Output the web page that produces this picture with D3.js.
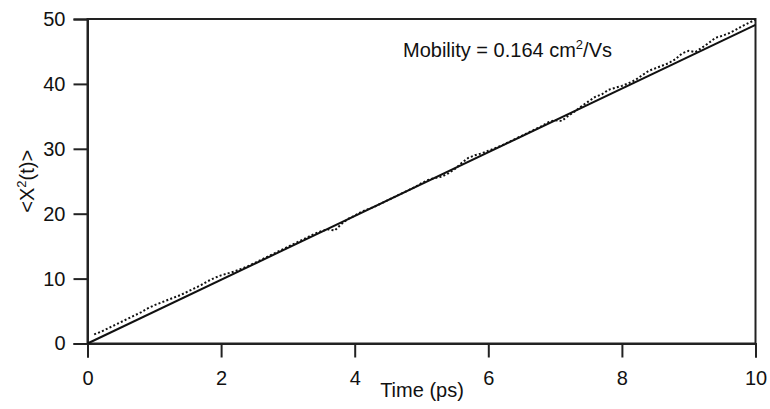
<!DOCTYPE html>
<meta charset="utf-8">
<script src="https://d3js.org/d3.v7.min.js"></script>
<style>
  body { margin: 0; background: #fff; }
  text { font-family: "Liberation Sans", Arial, sans-serif; fill: #111; }
</style>
<div id="chart"></div>
<script>
// simulated mean square displacement (dotted)
const timePs = [0.1,0.2,0.3,0.4,0.5,0.6,0.7,0.8,0.9,1.0,
  1.1,1.2,1.3,1.4,1.5,1.6,1.7,1.8,1.9,2.0,
  2.1,2.2,2.3,2.4,2.5,2.6,2.7,2.8,2.9,3.0,
  3.1,3.2,3.3,3.4,3.5,3.6,3.7,3.8,3.9,4.0,
  4.1,4.2,4.3,4.4,4.5,4.6,4.7,4.8,4.9,5.0,
  5.1,5.2,5.3,5.4,5.5,5.6,5.7,5.8,5.9,6.0,
  6.1,6.2,6.3,6.4,6.5,6.6,6.7,6.8,6.9,7.0,
  7.1,7.2,7.3,7.4,7.5,7.6,7.7,7.8,7.9,8.0,
  8.1,8.2,8.3,8.4,8.5,8.6,8.7,8.8,8.9,9.0,
  9.1,9.2,9.3,9.4,9.5,9.6,9.7,9.8,9.9,10.0];
const msd = [1.4,1.8,2.3,2.8,3.3,3.8,4.3,4.8,5.4,5.9,
  6.3,6.7,7.1,7.5,8.0,8.5,9.0,9.6,10.1,10.5,
  10.8,11.1,11.5,11.9,12.4,12.9,13.4,13.9,14.4,14.9,
  15.4,15.9,16.4,16.9,17.3,17.6,17.4,18.4,19.2,19.7,
  20.3,20.7,21.1,21.6,22.1,22.6,23.1,23.6,24.1,24.7,
  25.2,25.5,25.7,26.2,26.9,27.8,28.6,29.0,29.3,29.7,
  30.1,30.5,31.0,31.5,32.0,32.5,33.0,33.5,34.1,34.4,
  34.3,35.1,35.8,36.6,37.3,38.0,38.4,39.1,39.4,39.7,
  40.1,40.6,41.3,42.0,42.4,42.8,43.2,43.8,44.7,45.1,
  44.9,45.6,46.3,47.1,47.4,47.8,48.3,48.9,49.4,49.9];

// linear fit
const fitTime = [0, 10];
const fitValue = [0, 49.1];

const xTicks = [0, 2, 4, 6, 8, 10];
const yTicks = [0, 10, 20, 30, 40, 50];

const W = 770, H = 409;
const margin = {top: 19, right: 14.5, bottom: 65.5, left: 87.5};
const width = W - margin.left - margin.right;
const height = H - margin.top - margin.bottom;
const fs = "20px";

const svg = d3.select("#chart").append("svg")
  .attr("width", W).attr("height", H);
const g = svg.append("g")
  .attr("transform", `translate(${margin.left},${margin.top})`);

const x = d3.scaleLinear().domain([0, 10]).range([0, width]);
const y = d3.scaleLinear().domain([0, 50]).range([height, 0]);

// frame
g.append("rect")
  .attr("width", width).attr("height", height)
  .attr("fill", "none").attr("stroke", "#222").attr("stroke-width", 2);

const xAxis = g.append("g")
  .attr("transform", `translate(0,${height})`)
  .call(d3.axisBottom(x).tickValues(xTicks).tickSize(14).tickPadding(13).tickFormat(d3.format("d")));
const yAxis = g.append("g")
  .call(d3.axisLeft(y).tickValues(yTicks).tickSize(14).tickPadding(8).tickFormat(d3.format("d")));

[xAxis, yAxis].forEach(a => {
  a.select(".domain").attr("stroke", "#222").attr("stroke-width", 2);
  a.selectAll(".tick line").attr("stroke", "#222").attr("stroke-width", 2);
  a.selectAll(".tick text")
    .style("font-family", "'Liberation Sans', Arial, sans-serif")
    .style("font-size", fs).attr("fill", "#111");
});

// data
const line = d3.line().x(d => x(d[0])).y(d => y(d[1]));

g.append("path")
  .datum(timePs.map((t, i) => [t, msd[i]]))
  .attr("d", line)
  .attr("fill", "none")
  .attr("stroke", "#111")
  .attr("stroke-width", 2)
  .attr("stroke-dasharray", "2,2.2");

g.append("path")
  .datum(fitTime.map((t, i) => [t, fitValue[i]]))
  .attr("d", line)
  .attr("fill", "none")
  .attr("stroke", "#111")
  .attr("stroke-width", 2);

// labels
svg.append("text")
  .attr("x", 422)
  .attr("y", 397)
  .attr("text-anchor", "middle")
  .style("font-size", fs)
  .text("Time (ps)");

const yl = svg.append("text")
  .attr("transform", `translate(34,${margin.top + height / 2}) rotate(-90)`)
  .attr("text-anchor", "middle")
  .style("font-size", fs);
yl.append("tspan").text("<X");
yl.append("tspan").attr("dy", -8).style("font-size", "13px").text("2");
yl.append("tspan").attr("dy", 8).text("(t)>");

const mob = svg.append("text")
  .attr("x", 403).attr("y", 57)
  .style("font-size", fs);
mob.append("tspan").text("Mobility = 0.164 cm");
mob.append("tspan").attr("dy", -8).style("font-size", "13px").text("2");
mob.append("tspan").attr("dy", 8).text("/Vs");
</script>
